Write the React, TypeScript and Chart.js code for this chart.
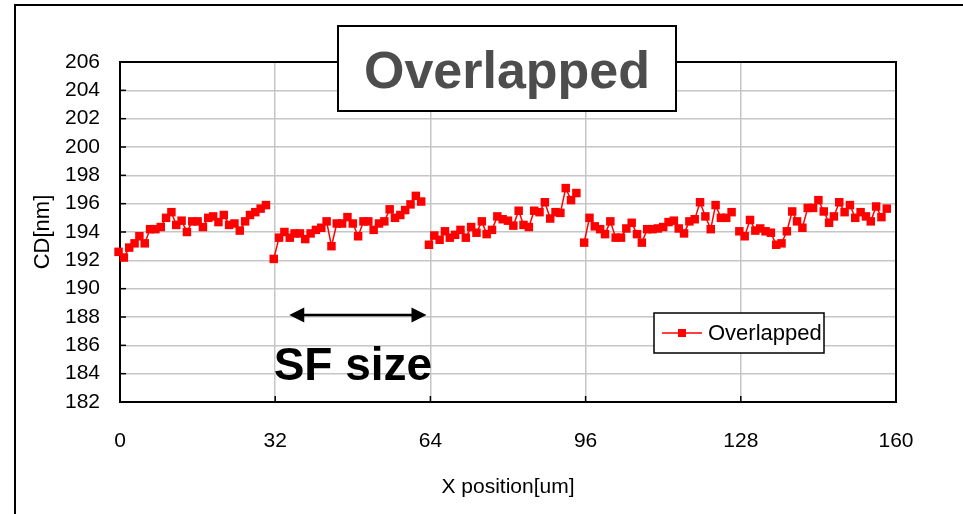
import React, { useEffect, useRef } from 'react';
import { Chart, registerables } from 'chart.js';

Chart.register(...registerables);

// ---- data ----
const fieldStarts = [0, 32, 64, 96, 128];
const fieldOffsets = [-0.3, 0.8, 1.9, 3.0, 4.0, 5.1, 6.2, 7.3, 8.4, 9.5, 10.6, 11.6, 12.7, 13.8, 14.9, 16.0, 17.1, 18.2, 19.2, 20.3, 21.4, 22.5, 23.6, 24.7, 25.8, 26.8, 27.9, 29.0, 30.1];
const field1 = [192.6, 192.2, 192.9, 193.2, 193.7, 193.2, 194.2, 194.2, 194.35, 195.0, 195.4, 194.5, 194.8, 194.0, 194.75, 194.75, 194.35, 195.0, 195.1, 194.7, 195.2, 194.5, 194.6, 194.1, 194.75, 195.2, 195.4, 195.65, 195.9];
const field2 = [192.1, 193.6, 194.0, 193.6, 193.9, 193.9, 193.5, 193.9, 194.15, 194.3, 194.75, 193.0, 194.6, 194.6, 195.05, 194.6, 193.7, 194.75, 194.75, 194.15, 194.6, 194.75, 195.6, 195.0, 195.2, 195.55, 195.95, 196.55, 196.15];
const field3 = [193.1, 193.75, 193.45, 194.05, 193.6, 193.8, 194.15, 193.6, 194.35, 193.95, 194.75, 193.85, 194.15, 195.1, 194.9, 194.8, 194.45, 195.5, 194.5, 194.35, 195.5, 195.4, 196.1, 194.95, 195.4, 195.35, 197.1, 196.25, 196.75];
const field4 = [193.25, 195.0, 194.4, 194.2, 193.85, 194.75, 193.6, 193.6, 194.25, 194.65, 193.85, 193.25, 194.2, 194.2, 194.25, 194.35, 194.7, 194.8, 194.25, 193.9, 194.75, 194.9, 196.1, 195.1, 194.2, 195.9, 195.0, 195.0, 195.4];
const field5 = [194.05, 193.7, 194.85, 194.1, 194.25, 194.05, 193.95, 193.1, 193.2, 194.05, 195.45, 194.75, 194.3, 195.7, 195.7, 196.25, 195.45, 194.65, 195.1, 196.1, 195.4, 195.9, 195.0, 195.4, 195.1, 194.75, 195.8, 195.05, 195.65];
const fields = [field1, field2, field3, field4, field5];

const xMin = 0;
const xMax = 160;
const xStep = 32;
const yMin = 182;
const yMax = 206;
const yStep = 2;

const seriesLabel = 'Overlapped';
const chartTitle = 'Overlapped';
const xTitle = 'X position[um]';
const yTitle = 'CD[nm]';
const noteText = 'SF size';
const noteArrowFrom = 34.9;
const noteArrowTo = 63.2;
const noteArrowValue = 188.15;

const FONT = "'Liberation Sans', Arial, Helvetica, sans-serif";
const RED = '#ff0000';

function buildPoints() {
  const pts: { x: number; y: number | null }[] = [];
  fields.forEach((vals, f) => {
    vals.forEach((v, i) => pts.push({ x: fieldStarts[f] + fieldOffsets[i], y: v }));
    if (f < fields.length - 1) pts.push({ x: fieldStarts[f] + 31, y: null });
  });
  return pts;
}

const decorPlugin = {
  id: 'decor',
  beforeDatasetsDraw(chart: any) {
    const { ctx, chartArea } = chart;
    const { left, right, top, bottom } = chartArea;
    ctx.save();
    ctx.strokeStyle = '#000';
    ctx.lineWidth = 2;
    ctx.strokeRect(left, top, right - left, bottom - top);
    ctx.lineWidth = 1.5;
    const ys = chart.scales.y;
    for (let v = yMin; v <= yMax; v += yStep) {
      const py = ys.getPixelForValue(v);
      ctx.beginPath();
      ctx.moveTo(left, py);
      ctx.lineTo(left + 6, py);
      ctx.stroke();
    }
    const xs = chart.scales.x;
    for (let v = xMin; v <= xMax; v += xStep) {
      const px = xs.getPixelForValue(v);
      ctx.beginPath();
      ctx.moveTo(px, bottom);
      ctx.lineTo(px, bottom - 6);
      ctx.stroke();
    }
    ctx.restore();
  },
  afterDraw(chart: any) {
    const { ctx } = chart;
    const xs = chart.scales.x;
    const ys = chart.scales.y;
    ctx.save();
    // outer frame (top & left)
    ctx.strokeStyle = '#000';
    ctx.lineWidth = 2;
    ctx.beginPath();
    ctx.moveTo(15, 514);
    ctx.lineTo(15, 5);
    ctx.lineTo(963, 5);
    ctx.stroke();

    // title box
    ctx.fillStyle = '#fff';
    ctx.fillRect(338, 26, 338, 85);
    ctx.strokeRect(338, 26, 338, 85);
    ctx.fillStyle = '#4d4d4d';
    ctx.font = `bold 52px ${FONT}`;
    ctx.textAlign = 'center';
    ctx.textBaseline = 'alphabetic';
    ctx.fillText(chartTitle, 507, 88);

    // legend
    ctx.fillStyle = '#fff';
    ctx.fillRect(654, 313, 170, 40);
    ctx.lineWidth = 1.5;
    ctx.strokeRect(654, 313, 170, 40);
    ctx.strokeStyle = RED;
    ctx.beginPath();
    ctx.moveTo(662, 333);
    ctx.lineTo(702, 333);
    ctx.stroke();
    ctx.fillStyle = RED;
    ctx.fillRect(678, 329, 8, 8);
    ctx.fillStyle = '#000';
    ctx.font = `22px ${FONT}`;
    ctx.textAlign = 'left';
    ctx.textBaseline = 'middle';
    ctx.fillText(chart.data.datasets[0].label, 708, 334);

    // SF size arrow
    const ax1 = xs.getPixelForValue(noteArrowFrom);
    const ax2 = xs.getPixelForValue(noteArrowTo);
    const ay = ys.getPixelForValue(noteArrowValue);
    ctx.strokeStyle = '#000';
    ctx.fillStyle = '#000';
    ctx.lineWidth = 2.5;
    ctx.beginPath();
    ctx.moveTo(ax1 + 10, ay);
    ctx.lineTo(ax2 - 10, ay);
    ctx.stroke();
    ctx.beginPath();
    ctx.moveTo(ax1, ay);
    ctx.lineTo(ax1 + 15, ay - 7.5);
    ctx.lineTo(ax1 + 15, ay + 7.5);
    ctx.closePath();
    ctx.fill();
    ctx.beginPath();
    ctx.moveTo(ax2, ay);
    ctx.lineTo(ax2 - 15, ay - 7.5);
    ctx.lineTo(ax2 - 15, ay + 7.5);
    ctx.closePath();
    ctx.fill();

    ctx.font = `bold 46px ${FONT}`;
    ctx.textAlign = 'center';
    ctx.textBaseline = 'alphabetic';
    ctx.fillText(noteText, (ax1 + ax2) / 2 - 5, 380);
    ctx.restore();
  },
};

export default function App() {
  const ref = useRef<HTMLCanvasElement | null>(null);
  useEffect(() => {
    if (!ref.current) return;
    const chart = new Chart(ref.current, {
      type: 'line',
      data: {
        datasets: [
          {
            label: seriesLabel,
            data: buildPoints() as any,
            borderColor: RED,
            backgroundColor: RED,
            borderWidth: 1.5,
            pointStyle: 'rect',
            pointRadius: 6,
            pointBorderWidth: 0,
            pointBackgroundColor: RED,
            pointBorderColor: RED,
            tension: 0,
            spanGaps: false,
            clip: false as any,
          },
        ],
      },
      options: {
        animation: false,
        responsive: false,
        devicePixelRatio: 1,
        layout: { padding: { top: 62, right: 67, bottom: 0, left: 0 } },
        plugins: { legend: { display: false }, tooltip: { enabled: false } },
        scales: {
          x: {
            type: 'linear',
            min: xMin,
            max: xMax,
            ticks: { stepSize: xStep, padding: 27, autoSkip: false, color: '#000', font: { family: FONT, size: 21 } },
            grid: { color: '#c6c6c6', lineWidth: 1.5, drawTicks: false },
            border: { display: false },
            title: {
              display: true,
              text: xTitle,
              color: '#000',
              font: { family: FONT, size: 21 },
              padding: { top: 0, bottom: 14 },
            },
            afterFit: (s: any) => {
              s.height = 112;
            },
          },
          y: {
            type: 'linear',
            min: yMin,
            max: yMax,
            ticks: { stepSize: yStep, padding: 20, autoSkip: false, color: '#000', font: { family: FONT, size: 21 } },
            grid: { color: '#c6c6c6', lineWidth: 1.5, drawTicks: false },
            border: { display: false },
            title: {
              display: true,
              text: yTitle,
              color: '#000',
              font: { family: FONT, size: 22 },
              padding: { top: 30, bottom: 0 },
            },
            afterFit: (s: any) => {
              s.width = 120;
            },
          },
        },
      },
      plugins: [decorPlugin],
    });
    return () => chart.destroy();
  }, []);
  return (
    <div style={{ position: 'fixed', left: 0, top: 0, width: 963, height: 514, background: '#fff' }}>
      <canvas ref={ref} width={963} height={514} style={{ display: 'block' }} />
    </div>
  );
}
